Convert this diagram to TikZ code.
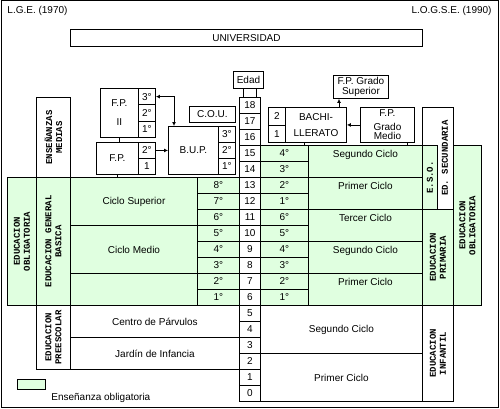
\documentclass[tikz,border=0pt]{standalone}
\usepackage{fontspec}
\setmainfont{Liberation Sans}
\setmonofont{Liberation Mono}
\usetikzlibrary{arrows.meta}
\definecolor{oblgreen}{RGB}{224,255,224}

\begin{document}
\begin{tikzpicture}[
    x=1pt, y=-1pt,
    line width=0.9pt,
    >={Latex[length=4pt,width=4pt]},
    every node/.style={font=\fontsize{10}{12}\selectfont, inner sep=0pt},
    cell/.style 2 args={draw, anchor=north west, minimum width=#1pt, minimum height=#2pt},
    obl/.style={fill=oblgreen},
    toprow/.style={text height=12pt, text depth=20pt},
    vtext/.style={font=\fontsize{9}{10}\selectfont\ttfamily\bfseries, rotate=90, align=center}
]
\useasboundingbox (0,0) rectangle (500,409);
\draw[line width=1pt] (1,1) rectangle (498,407);

\node[anchor=west] (lge) at (7,11) {L.G.E. (1970)};
\node[anchor=east] (logse) at (492,11) {L.O.G.S.E. (1990)};

\node[cell={352}{17}] (univ) at (70,29) {UNIVERSIDAD};
\node[cell={30}{17}] (edad) at (233,71) {Edad};

% age column
\foreach \a in {0,...,18}
    \node[cell={21}{16}] (age\a) at (239,{385-16*\a}) {\a};

% L.G.E.
\node[cell={29}{128}, obl] (eoL) at (7,177) {};
\node[vtext] (eoLt) at (eoL) {EDUCACION\\OBLIGATORIA};
\node[cell={34}{80}] (em) at (36,97) {};
\node[vtext] (emt) at (em) {ENSEÑANZAS\\MEDIAS};
\node[cell={34}{128}, obl] (egb) at (36,177) {};
\node[vtext] (egbt) at (egb) {EDUCACION GENERAL\\BASICA};
\node[cell={34}{64}] (pre) at (36,305) {};
\node[vtext] (pret) at (pre) {EDUCACION\\PREESCOLAR};

\node[cell={127}{48}, obl] (csup) at (70,177) {Ciclo Superior};
\node[cell={127}{48}, obl] (cmed) at (70,225) {Ciclo Medio};
\node[cell={127}{32}, obl] (cini) at (70,273) {};
\foreach \g [count=\i] in {8,...,1}
    \node[cell={42}{16}, obl] (egb\g) at (197,{161+16*\i}) {\g°};
\node[cell={169}{32}] (cpar) at (70,305) {Centro de Párvulos};
\node[cell={169}{32}] (jinf) at (70,337) {Jardín de Infancia};

\node[cell={38}{49}, align=center] (fp2) at (100,88) {F.P.\\[7pt]II};
\foreach \g [count=\i] in {3,2,1}
    \node[cell={17}{16.33}] (fp2c\g) at (138,{88+16.33*(\i-1)}) {\g°};
\node[cell={42}{32}] (fp1) at (96,142) {F.P.};
\node[cell={17}{16}] (fp1c2) at (138,142) {2°};
\node[cell={17}{16}] (fp1c1) at (138,158) {1};
\node[cell={50}{48}] (bup) at (168,126) {B.U.P.};
\foreach \g [count=\i] in {3,2,1}
    \node[cell={17}{16}] (bupc\g) at (218,{110+16*\i}) {\g°};
\node[cell={46}{16}] (cou) at (189,106) {C.O.U.};

% L.O.G.S.E.
\foreach \g [count=\i] in {4,3,2,1,6,5,4,3,2,1}
    \node[cell={48}{16}, obl] (gr\i) at (260,{129+16*\i}) {\g°};
\node[cell={114}{32}, obl, toprow] (eso2) at (308,145) {Segundo Ciclo};
\node[cell={114}{32}, obl, toprow] (eso1) at (308,177) {Primer Ciclo};
\node[cell={114}{32}, obl, toprow] (pri3) at (308,209) {Tercer Ciclo};
\node[cell={114}{32}, obl, toprow] (pri2) at (308,241) {Segundo Ciclo};
\node[cell={114}{32}, obl, toprow] (pri1) at (308,273) {Primer Ciclo};
\node[cell={162}{48}] (inf2) at (260,305) {Segundo Ciclo};
\node[cell={162}{48}] (inf1) at (260,353) {Primer Ciclo};

\node[cell={31}{102}] (edsec) at (422,107) {};
\node[cell={15}{64}, obl] (eso) at (422,145) {};
\node[vtext] (esot) at (eso) {E.S.O.};
\node[vtext] (edsect) at (445,158) {ED. SECUNDARIA};
\node[cell={31}{96}, obl] (prim) at (422,209) {};
\node[vtext] (primt) at (prim) {EDUCACION\\PRIMARIA};
\node[cell={31}{96}] (infa) at (422,305) {};
\node[vtext] (infat) at (infa) {EDUCACION\\INFANTIL};
\node[cell={28}{160}, obl] (eoR) at (453,145) {};
\node[vtext] (eoRt) at (eoR) {EDUCACION\\OBLIGATORIA};

\node[cell={17}{17.5}] (bc2) at (268,107) {2};
\node[cell={17}{17.5}] (bc1) at (268,124.5) {1};
\node[cell={61}{35}, align=center] (bach) at (285,107) {BACHI-\\[4pt]LLERATO};
\node[cell={54}{35}, align=center] (fpm) at (360,107) {F.P.\\[2pt]Grado\\[-3pt]Medio};
\node[cell={55}{23}, align=center] (fps) at (333,75) {F.P. Grado\\[-2pt]Superior};

% connectors
\coordinate (el) at ([xshift=-5pt]edad.south);
\coordinate (er) at ([xshift=8pt]edad.south);
\draw (el) -- (el |- age18.north) (er) -- (er |- age18.north);
\draw (fp2.south) -- (fp2.south |- fp1.north);
\draw (fp1.south) -- (fp1.south |- csup.north);
\draw[<->] (fp2c3.east) -| ([xshift=6pt]bup.north west);
\draw[->] (fp1c2.east) -- (fp1c2.east -| bup.west);
\draw[->] (fpm.west) -- (fpm.west -| bach.east);
\coordinate (bs) at ([xshift=6pt]fps.south west);
\draw[->] (bs |- bach.north) -- (bs);
\coordinate (bt) at ([xshift=-12pt]bach.south);
\draw (bt) -- (bt |- gr1.north);
\coordinate (mt) at ([xshift=20pt]fpm.south);
\draw (mt) -- (mt |- eso2.north);

% legend
\node[cell={28}{10}, obl] (leg) at (17,379) {};
\node[anchor=north west] (legt) at ([xshift=5pt,yshift=-3pt]leg.south east) {Enseñanza obligatoria};

\end{tikzpicture}
\end{document}
